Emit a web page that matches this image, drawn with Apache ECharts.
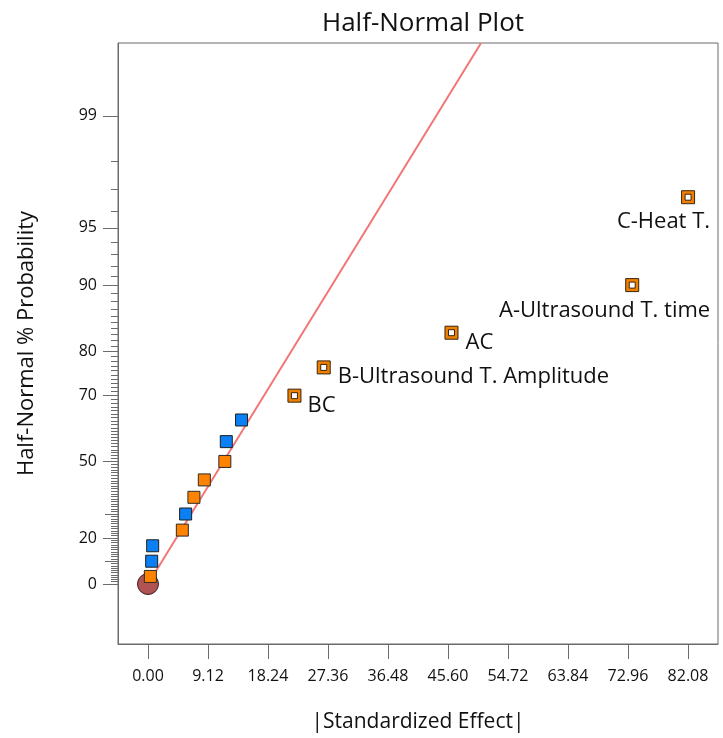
<!DOCTYPE html>
<html>
<head>
<meta charset="utf-8">
<script src="https://cdn.jsdelivr.net/npm/echarts@6/dist/echarts.min.js"></script>
<style>html,body{margin:0;padding:0;background:#fff;}#chart{width:723px;height:738px;}</style>
</head>
<body>
<div id="chart"></div>
<script>
// ---- data ----
const xTicks = [0, 9.12, 18.24, 27.36, 36.48, 45.60, 54.72, 63.84, 72.96, 82.08];
const yMajorProb = [0, 20, 50, 70, 80, 90, 95, 99];
const yMidProb = [10, 30];

const orangeEffect = [0.36, 5.22, 6.98, 8.56, 11.68];
const orangeProb   = [3.33, 23.33, 36.67, 43.33, 50.0];
const blueEffect   = [0.56, 0.71, 5.72, 11.9, 14.22];
const blueProb     = [10.0, 16.67, 30.0, 56.67, 63.33];

const termNames  = ['BC', 'B-Ultrasound T. Amplitude', 'AC', 'A-Ultrasound T. time', 'C-Heat T.'];
const termEffect = [22.26, 26.71, 46.13, 73.6, 82.09];
const termProb   = [70.0, 76.67, 83.33, 90.0, 96.67];

const errorEffect = [0];
const errorProb = [0];

const fitEffect = [0, 50.6];
const fitProb = [0, 99.708];

// ---- half-normal probability scale ----
function probit(p){
  const a=[-3.969683028665376e+01,2.209460984245205e+02,-2.759285104469687e+02,1.383577518672690e+02,-3.066479806614716e+01,2.506628277459239e+00];
  const b=[-5.447609879822406e+01,1.615858368580409e+02,-1.556989798598866e+02,6.680131188771972e+01,-1.328068155288572e+01];
  const c=[-7.784894002430293e-03,-3.223964580411365e-01,-2.400758277161838e+00,-2.549671464891370e+00,4.374664141464968e+00,2.938163982698783e+00];
  const d=[7.784695709041462e-03,3.224671290700398e-01,2.445134137142996e+00,3.754408661907416e+00];
  const pl=0.02425, ph=1-pl;
  if(p<pl){const q=Math.sqrt(-2*Math.log(p));return (((((c[0]*q+c[1])*q+c[2])*q+c[3])*q+c[4])*q+c[5])/((((d[0]*q+d[1])*q+d[2])*q+d[3])*q+1);}
  if(p<=ph){const q=p-0.5,r=q*q;return (((((a[0]*r+a[1])*r+a[2])*r+a[3])*r+a[4])*r+a[5])*q/(((((b[0]*r+b[1])*r+b[2])*r+b[3])*r+b[4])*r+1);}
  const q=Math.sqrt(-2*Math.log(1-p));return -(((((c[0]*q+c[1])*q+c[2])*q+c[3])*q+c[4])*q+c[5])/((((d[0]*q+d[1])*q+d[2])*q+d[3])*q+1);
}
const hz = pct => probit(0.5 + pct / 200);

const majorZ = yMajorProb.map(hz);
const midZ = yMidProb.map(hz);
const minorZ = [];
for (let i = 1; i < 99; i++) {
  if (yMajorProb.indexOf(i) < 0 && yMidProb.indexOf(i) < 0) minorZ.push(hz(i));
}

const pts = (xs, ps) => xs.map((x, i) => [x, hz(ps[i])]);

const FONT = '"Open Sans", "Noto Sans", sans-serif';
const TXT = '#111111';
const AX = '#6b6b6b';
const YMIN = -0.33, YMAX = 2.977;

const labelPos = [
  {align: 'left', offset: [13, 10]},
  {align: 'left', offset: [14, 9]},
  {align: 'left', offset: [14, 10]},
  {align: 'right', offset: [78, 26]},
  {align: 'right', offset: [22, 25]}
];

function yAxisLayer(values, len, showLabel, extra) {
  return Object.assign({
    type: 'value', position: 'left', offset: 0, min: YMIN, max: YMAX,
    axisLine: {show: showLabel, onZero: false, lineStyle: {color: AX, width: 1}},
    splitLine: {show: false},
    axisTick: {show: true, customValues: values, length: len, inside: false, lineStyle: {color: AX, width: 1}},
    axisLabel: showLabel ? {
      show: true, customValues: values, margin: 21, color: TXT, fontFamily: FONT, fontSize: 16,
      formatter: v => { let k = 0, best = 1e9; majorZ.forEach((z, i) => { const d = Math.abs(z - v); if (d < best) { best = d; k = i; } }); return String(yMajorProb[k]); }
    } : {show: false}
  }, extra || {});
}

const option = {
  backgroundColor: '#fff',
  animation: false,
  title: {
    text: 'Half-Normal Plot', left: 418, top: 6, textAlign: 'center',
    textStyle: {fontFamily: FONT, fontSize: 26, fontWeight: 'normal', color: TXT}
  },
  grid: {left: 118, right: 5, top: 43, bottom: 94, show: true, borderColor: AX, borderWidth: 1, backgroundColor: 'transparent'},
  xAxis: {
    type: 'value', min: -4.56, max: 86.64,
    name: '|Standardized Effect|', nameLocation: 'middle', nameGap: 68,
    nameTextStyle: {fontFamily: FONT, fontSize: 21, color: TXT},
    axisLine: {show: true, onZero: false, lineStyle: {color: AX}},
    splitLine: {show: false},
    axisTick: {show: true, customValues: xTicks, length: 15, lineStyle: {color: AX}},
    axisLabel: {show: true, customValues: xTicks, margin: 24, color: TXT, fontFamily: FONT, fontSize: 16, formatter: v => v.toFixed(2)}
  },
  yAxis: [
    yAxisLayer(majorZ, 15, true, {
      name: 'Half-Normal % Probability', nameLocation: 'middle', nameGap: 80, nameRotate: 90,
      nameTextStyle: {fontFamily: FONT, fontSize: 22, color: TXT}
    }),
    yAxisLayer(midZ, 13, false),
    yAxisLayer(minorZ, 7, false)
  ],
  series: [
    {
      type: 'line', name: 'fit', data: pts(fitEffect, fitProb), showSymbol: false, symbol: 'none',
      lineStyle: {color: '#f27676', width: 2}, z: 1, clip: true, silent: true
    },
    {
      type: 'scatter', name: 'error', data: pts(errorEffect, errorProb), symbol: 'circle', symbolSize: 21,
      itemStyle: {color: '#b05353', borderColor: '#3b1e1e', borderWidth: 1, opacity: 1}, z: 2
    },
    {
      type: 'scatter', name: 'orange', data: pts(orangeEffect, orangeProb), symbol: 'rect', symbolSize: 12,
      itemStyle: {color: '#ff8200', borderColor: '#2b2b2b', borderWidth: 1, opacity: 1}, z: 3
    },
    {
      type: 'scatter', name: 'blue', data: pts(blueEffect, blueProb), symbol: 'rect', symbolSize: 12,
      itemStyle: {color: '#0b80f5', borderColor: '#1e1e1e', borderWidth: 1, opacity: 1}, z: 3
    },
    {
      type: 'scatter', name: 'termsOuter', data: pts(termEffect, termProb), symbol: 'rect', symbolSize: 13,
      itemStyle: {color: '#f08000', borderColor: '#3a2410', borderWidth: 1, opacity: 1}, z: 4
    },
    {
      type: 'scatter', name: 'termsInner',
      data: pts(termEffect, termProb).map((p, i) => ({
        value: p,
        label: {
          show: true, position: 'inside', formatter: termNames[i],
          align: labelPos[i].align, verticalAlign: 'middle', offset: labelPos[i].offset,
          color: TXT, fontFamily: FONT, fontSize: 22, opacity: 1
        }
      })),
      symbol: 'rect', symbolSize: 6,
      itemStyle: {color: '#ffffff', borderColor: '#3a2410', borderWidth: 1, opacity: 1}, z: 5
    }
  ]
};

const chart = echarts.init(document.getElementById('chart'), null, {renderer: 'canvas'});
chart.setOption(option);
</script>
</body>
</html>
